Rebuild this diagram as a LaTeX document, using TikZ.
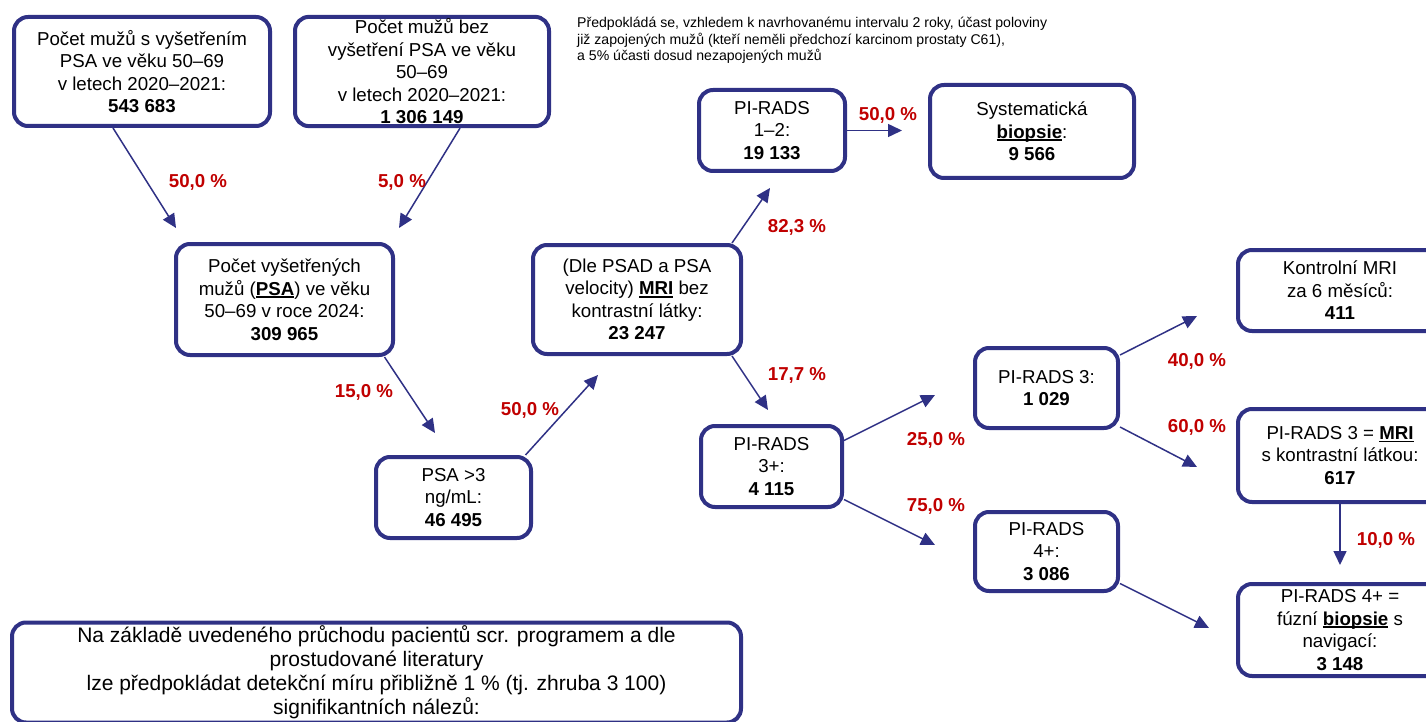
\documentclass[tikz,border=0pt]{standalone}
\usepackage{fontspec}
\setmainfont{Liberation Sans}
\usetikzlibrary{arrows.meta,positioning,calc}
\definecolor{navy}  {HTML}{2F3185}
\definecolor{pctred}{HTML}{C00000}
\newsavebox\ulbox
\newcommand{\ulb}[1]{\sbox\ulbox{\bfseries #1}\rlap{\rule[-2.6pt]{\wd\ulbox}{1.4pt}}\usebox\ulbox}
\tikzset{
  >={Triangle[length=14pt,width=13pt]},
  % --- nodes
  box/.style  = {rounded corners=14pt, draw=navy, line width=4pt, fill=white,
                 align=center, inner sep=2pt,
                 font=\fontsize{18.7}{22.5}\selectfont},
  pct/.style  = {font=\fontsize{18.7}{22.5}\selectfont\bfseries, text=pctred,
                 inner sep=0pt},
  note/.style = {font=\fontsize{14.1}{16.6}\selectfont, align=left,
                 anchor=north west, inner sep=0pt},
  % --- edges
  e/.style    = {->, line width=1.5pt, draw=navy},
}

\begin{document}
\begin{tikzpicture}[x=1pt,y=-1pt,
  wide/.style={box,minimum width=256pt,minimum height=109pt},
  mid/.style={box,minimum width=212pt,minimum height=111pt},
  small/.style={box,minimum width=145pt,minimum height=81pt},
  side/.style={box,minimum width=204pt,minimum height=92pt},
]
  \useasboundingbox (0,0) rectangle (1426,722);
  \clip (0,0) rectangle (1426,722);

  % boxes
  \node[wide] (a) at (142,71.5) {Počet mužů s vyšetřením\\PSA ve věku 50–69\\v letech 2020–2021:\\\textbf{543 683}};
  \node[wide,minimum width=254pt] (b) at (422,71.5) {Počet mužů bez\\vyšetření PSA ve věku\\50–69\\v letech 2020–2021:\\\textbf{1 306 149}};
  \node[mid,minimum width=217pt] (c) at (284.5,299.5) {Počet vyšetřených\\mužů (\ulb{PSA}) ve věku\\50–69 v roce 2024:\\\textbf{309 965}};
  \node[small,minimum width=155pt] (d) at (453.5,497.5) {PSA >3\\ng/mL:\\\textbf{46 495}};
  \node[mid,minimum width=208pt,minimum height=109pt] (e) at (637,299.5) {(Dle PSAD a PSA\\velocity) \ulb{MRI} bez\\kontrastní látky:\\\textbf{23 247}};
  \node[small,minimum width=146pt] (f) at (772,130.5) {PI-RADS\\1–2:\\\textbf{19 133}};
  \node[side,minimum height=93pt] (g) at (1032,131.5) {Systematická\\\ulb{biopsie}:\\\textbf{9 566}};
  \node[small,minimum width=141pt] (h) at (771.5,466.5) {PI-RADS\\3+:\\\textbf{4 115}};
  \node[small,minimum width=143pt,minimum height=80pt] (i) at (1046.5,388) {PI-RADS 3:\\\textbf{1 029}};
  \node[small,minimum width=143pt,minimum height=79pt] (j) at (1046.5,551.5) {PI-RADS\\4+:\\\textbf{3 086}};
  \node[side,minimum height=81pt] (k) at (1340,290.5) {Kontrolní MRI\\za 6 měsíců:\\\textbf{411}};
  \node[side,minimum height=93pt] (l) at (1340,455.5) {PI-RADS 3 = \ulb{MRI}\\s kontrastní látkou:\\\textbf{617}};
  \node[side] (m) at (1340,630) {PI-RADS 4+ =\\fúzní \ulb{biopsie} s\\navigací:\\\textbf{3 148}};
  \node[box,minimum width=729pt,minimum height=100pt,
        font=\fontsize{21}{24}\selectfont] (n) at (376.5,672.5)
    {Na základě uvedeného průchodu pacientů scr. programem a dle\\prostudované literatury\\lze předpokládat detekční míru přibližně 1~\% (tj. zhruba 3 100)\\signifikantních nálezů:};

  \node[note] (txt) at (577,17) {Předpokládá se, vzhledem k navrhovanému intervalu 2 roky, účast poloviny\\již zapojených mužů (kteří neměli předchozí karcinom prostaty C61),\\a 5\% účasti dosud nezapojených mužů};

  % arrow tips
  \coordinate (ac) at (176,228);
  \coordinate (bc) at (399,228);
  \coordinate (cd) at (435,433);
  \coordinate (de) at (598,375);
  \coordinate (ef) at (770,188);
  \coordinate (fg) at (902,130.5);
  \coordinate (eh) at (768,410);
  \coordinate (hi) at (935,395);
  \coordinate (hj) at (935,545);
  \coordinate (ik) at (1197,316);
  \coordinate (il) at (1197,467);
  \coordinate (lm) at (1340,565);
  \coordinate (jm) at (1209,628);

  \draw[e] ([xshift=-29pt]a.south) -- (ac);
  \draw[e] ([xshift=38pt]b.south) -- (bc);
  \draw[e] ([xshift=100pt]c.south) -- (cd);
  \draw[e] ([xshift=72pt]d.north) -- (de);
  \draw[e] ([xshift=95pt]e.north) -- (ef);
  \draw[e] (f.east) -- (fg);
  \draw[e] ([xshift=95pt]e.south) -- (eh);
  \draw[e] ([yshift=26pt]h.east) -- (hi);
  \draw[e] ([yshift=-33pt]h.east) -- (hj);
  \draw[e] ([yshift=33pt]i.east) -- (ik);
  \draw[e] ([yshift=-39pt]i.east) -- (il);
  \draw[e] (l.south) -- (lm);
  \draw[e] ([yshift=-32pt]j.east) -- (jm);

  % percentages
  \node[pct] (p1) at (198,182) {50,0 \%};
  \node[pct] (p2) at (402,182) {5,0 \%};
  \node[pct] (p3) at (364,392) {15,0 \%};
  \node[pct] (p4) at (530,410) {50,0 \%};
  \node[pct] (p5) at (797,227) {82,3 \%};
  \node[pct] (p6) at (888,115) {50,0 \%};
  \node[pct] (p7) at (797,375) {17,7 \%};
  \node[pct] (p8) at (936,440) {25,0 \%};
  \node[pct] (p9) at (936,506) {75,0 \%};
  \node[pct] (p10) at (1197,361) {40,0 \%};
  \node[pct] (p11) at (1197,427) {60,0 \%};
  \node[pct] (p12) at (1386,540) {10,0 \%};
\end{tikzpicture}
\end{document}
